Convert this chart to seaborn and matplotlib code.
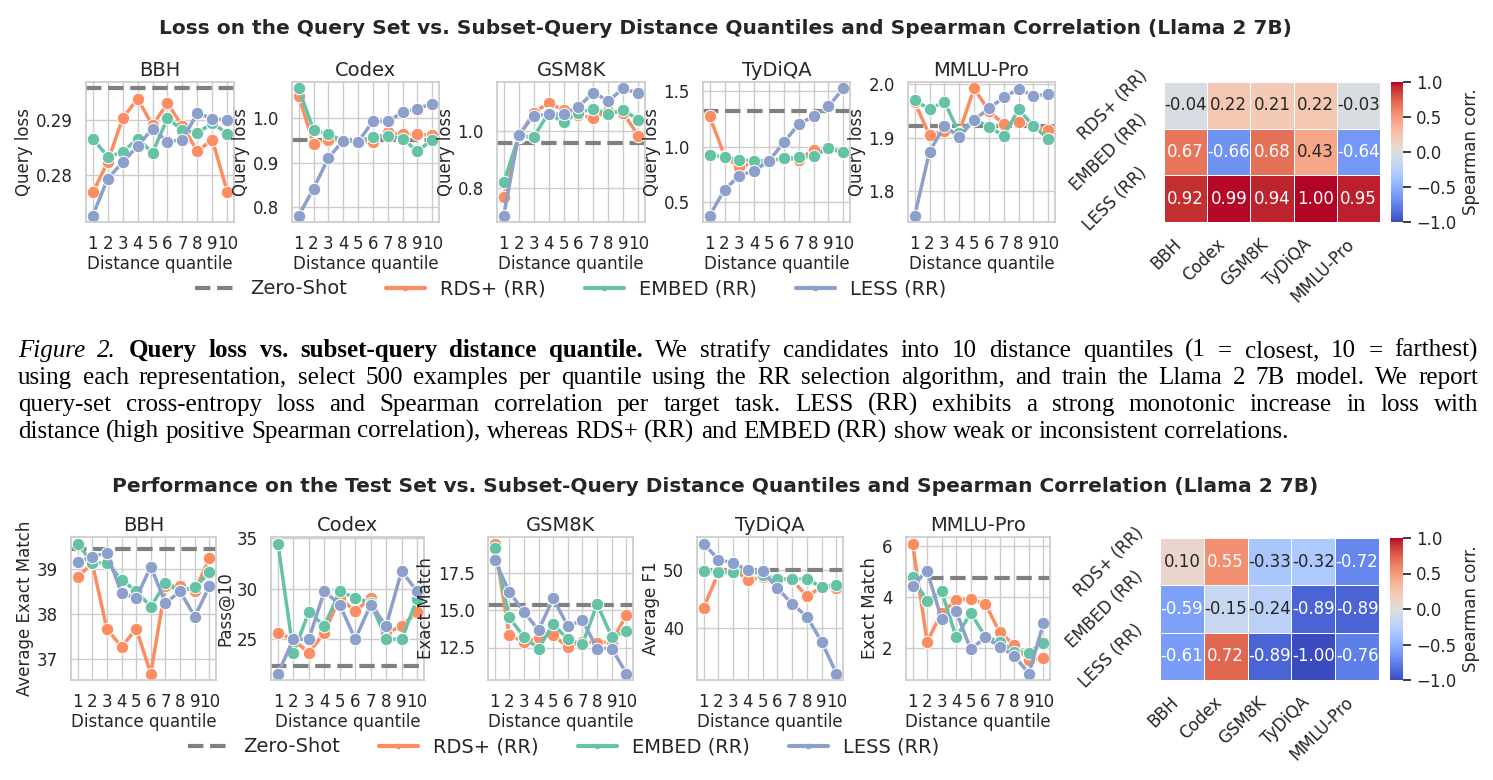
import numpy as np
import pandas as pd
import matplotlib
matplotlib.use("Agg")
import matplotlib.pyplot as plt
from matplotlib.lines import Line2D
import seaborn as sns

tasks = ["BBH", "Codex", "GSM8K", "TyDiQA", "MMLU-Pro"]
methods = ["RDS+ (RR)", "EMBED (RR)", "LESS (RR)"]
quantiles = list(range(1, 11))

# Query-set loss per distance quantile (rows: tasks)
loss_zero_shot = [0.2958, 0.952, 0.9588, 1.322, 1.921]
loss_rds = [
    [0.2769, 0.2824, 0.2904, 0.2939, 0.2891, 0.2931, 0.2889, 0.2844, 0.2865, 0.2770],
    [1.050, 0.943, 0.952, 0.950, 0.947, 0.947, 0.968, 0.964, 0.964, 0.962],
    [0.768, 0.979, 1.067, 1.100, 1.076, 1.059, 1.047, 1.074, 1.065, 0.985],
    [1.272, 0.919, 0.814, 0.859, 0.874, 0.889, 0.883, 0.973, 0.979, 0.949],
    [1.966, 1.905, 1.913, 1.910, 1.992, 1.950, 1.925, 1.929, 1.922, 1.914],
]
loss_embed = [
    [0.2867, 0.2834, 0.2842, 0.2867, 0.2841, 0.2904, 0.2882, 0.2877, 0.2895, 0.2876],
    [1.067, 0.974, 0.964, 0.950, 0.947, 0.959, 0.961, 0.954, 0.926, 0.952],
    [0.818, 0.982, 0.980, 1.065, 1.032, 1.067, 1.080, 1.061, 1.076, 1.041],
    [0.928, 0.904, 0.883, 0.870, 0.874, 0.895, 0.904, 0.913, 0.988, 0.949],
    [1.970, 1.953, 1.967, 1.909, 1.935, 1.920, 1.904, 1.953, 1.922, 1.898],
]
loss_less = [
    [0.2727, 0.2794, 0.2824, 0.2853, 0.2885, 0.2861, 0.2865, 0.2913, 0.2903, 0.2901],
    [0.7815, 0.842, 0.911, 0.950, 0.947, 0.993, 0.993, 1.013, 1.021, 1.033],
    [0.700, 0.988, 1.055, 1.061, 1.061, 1.088, 1.138, 1.108, 1.153, 1.135],
    [0.380, 0.614, 0.740, 0.784, 0.874, 1.039, 1.204, 1.272, 1.362, 1.524],
    [1.755, 1.874, 1.922, 1.902, 1.933, 1.955, 1.975, 1.991, 1.978, 1.981],
]
loss_ylabels = ["Query loss"] * 5
loss_corr = [
    [-0.04, 0.22, 0.21, 0.22, -0.03],
    [0.67, -0.66, 0.68, 0.43, -0.64],
    [0.92, 0.99, 0.94, 1.00, 0.95],
]

# Test-set performance per distance quantile
perf_zero_shot = [39.44, 22.34, 15.33, 49.89, 4.73]
perf_rds = [
    [38.81, 39.13, 37.67, 37.27, 37.67, 36.68, 38.62, 38.62, 38.50, 39.24],
    [25.66, 24.93, 23.67, 25.66, 29.09, 27.76, 29.09, 25.6, 26.33, 27.66],
    [19.46, 13.33, 12.88, 13.15, 13.33, 12.54, 12.88, 12.81, 12.88, 14.67],
    [43.54, 49.43, 50.3, 48.17, 48.74, 48.4, 48.29, 45.43, 47.03, 46.86],
    [6.09, 2.26, 3.38, 3.88, 3.93, 3.74, 2.62, 2.13, 1.54, 1.61],
]
perf_embed = [
    [39.56, 39.13, 39.13, 38.76, 38.50, 38.16, 38.68, 38.50, 38.59, 38.92],
    [34.47, 23.67, 27.69, 26.33, 29.75, 29.09, 28.6, 25.0, 25.0, 28.99],
    [19.17, 14.51, 13.21, 12.43, 14.06, 13.04, 12.72, 15.40, 13.21, 13.59],
    [49.83, 49.54, 49.54, 49.89, 49.14, 48.4, 48.4, 48.4, 47.03, 47.43],
    [4.78, 3.84, 4.23, 2.43, 3.38, 2.46, 2.26, 1.87, 1.83, 2.22],
]
perf_less = [
    [39.14, 39.27, 39.35, 38.46, 38.35, 39.05, 38.24, 38.50, 37.94, 38.61],
    [21.61, 25.0, 25.0, 29.75, 28.42, 25.0, 28.42, 26.33, 31.74, 29.75],
    [18.35, 16.23, 14.89, 13.66, 15.78, 13.93, 14.33, 12.43, 12.43, 10.76],
    [54.46, 51.71, 51.14, 49.89, 49.71, 46.86, 44.17, 42.0, 37.71, 32.29],
    [4.45, 5.02, 3.14, 3.44, 1.96, 2.43, 2.07, 1.70, 1.02, 2.98],
]
perf_ylabels = ["Average Exact Match", "Pass@10", "Exact Match", "Average F1", "Exact Match"]
perf_corr = [
    [0.10, 0.55, -0.33, -0.32, -0.72],
    [-0.59, -0.15, -0.24, -0.89, -0.89],
    [-0.61, 0.72, -0.89, -1.00, -0.76],
]

palette = {"RDS+ (RR)": "#fc8d62", "EMBED (RR)": "#66c2a5", "LESS (RR)": "#8da0cb"}

sns.set_theme(style="whitegrid", rc={
    "axes.titlesize": 14, "axes.labelsize": 12,
    "xtick.labelsize": 12, "ytick.labelsize": 12,
})
plt.rcParams["font.family"] = ["DejaVu Sans"]

W, H = 1493, 780
fig = plt.figure(figsize=(W / 100, H / 100), dpi=100)


def rect(x0, y0, x1, y1):
    return [x0 / W, 1 - y1 / H, (x1 - x0) / W, (y1 - y0) / H]


def draw_row(lefts, rights, top, bottom, hm_box, cb_box, zero, rds, embed, less, ylabels, corr,
             title, title_xy, legend_xy):
    for i in range(5):
        ax = fig.add_axes(rect(lefts[i], top, rights[i], bottom))
        df = pd.DataFrame({
            "quantile": quantiles * 3,
            "value": rds[i] + embed[i] + less[i],
            "method": np.repeat(methods, 10),
        })
        sns.lineplot(data=df, x="quantile", y="value", hue="method", palette=palette,
                     marker="o", markersize=9, linewidth=2.5, ax=ax, legend=False)
        ax.axhline(zero[i], color="gray", ls="--", lw=3, zorder=1)
        ax.set_xticks(quantiles)
        ax.set_title(tasks[i], pad=4)
        ax.set_xlabel("Distance quantile", labelpad=1)
        ax.set_ylabel(ylabels[i], labelpad=2)

    hax = fig.add_axes(rect(*hm_box))
    cax = fig.add_axes(rect(*cb_box))
    cdf = pd.DataFrame(corr, index=methods, columns=tasks)
    sns.heatmap(cdf, ax=hax, cbar_ax=cax, cmap="coolwarm", vmin=-1, vmax=1, center=0,
                annot=True, fmt=".2f", annot_kws={"size": 12}, linewidths=0.5, linecolor="white",
                cbar_kws={"label": "Spearman corr."})
    hax.set_xticklabels(tasks, rotation=45, ha="right")
    hax.set_yticklabels(methods, rotation=45)
    hax.set_xlabel("")
    hax.set_ylabel("")
    cax.tick_params(labelsize=12)
    cax.yaxis.label.set_size(12)

    fig.text(title_xy[0] / W, 1 - title_xy[1] / H, title, ha="center", va="center",
             fontsize=14.5, weight="bold", color=".15")

    handles = [Line2D([], [], color="gray", ls="--", lw=3)]
    for m in methods:
        handles.append(Line2D([], [], color=palette[m], lw=3, marker="o", markersize=3))
    fig.legend(handles, ["Zero-Shot"] + methods, loc="center", ncol=4, frameon=False,
               fontsize=14, bbox_to_anchor=(legend_xy[0] / W, 1 - legend_xy[1] / H))


draw_row([86, 292, 497, 703, 908], [234, 439, 645, 850, 1055], 82, 222,
         (1164, 82, 1380, 222), (1391, 82, 1403, 222),
         loss_zero_shot, loss_rds, loss_embed, loss_less, loss_ylabels, loss_corr,
         "Loss on the Query Set vs. Subset-Query Distance Quantiles and Spearman Correlation (Llama 2 7B)",
         (725, 28), (571, 289))

draw_row([71, 271, 488, 697, 906], [216, 424, 633, 843, 1050], 537, 680,
         (1160, 538, 1379, 680), (1390, 538, 1403, 680),
         perf_zero_shot, perf_rds, perf_embed, perf_less, perf_ylabels, perf_corr,
         "Performance on the Test Set vs. Subset-Query Distance Quantiles and Spearman Correlation (Llama 2 7B)",
         (715, 486), (564, 747))

# Caption between the two panels (justified lines)
caption = [
    ([("Figure 2.", "italic"), ("Query loss vs. subset-query distance quantile.", "bold"),
      ("We stratify candidates into 10 distance quantiles (1 = closest, 10 = farthest)", "normal")], True),
    ([("using each representation, select 500 examples per quantile using the RR selection "
       "algorithm, and train the Llama 2 7B model. We report", "normal")], True),
    ([("query-set cross-entropy loss and Spearman correlation per target task.  LESS (RR) exhibits "
       "a strong monotonic increase in loss with", "normal")], True),
    ([("distance (high positive Spearman correlation), whereas RDS+ (RR) and EMBED (RR) show weak "
       "or inconsistent correlations.", "normal")], False),
]
renderer = fig.canvas.get_renderer()
cap_fs = 18
x_left, x_right = 18, 1478
for k, (runs, just) in enumerate(caption):
    y = 1 - (357 + 27 * k) / H
    objs = []
    for txt, st in runs:
        for w in txt.split():
            t = fig.text(0, y, w, fontsize=cap_fs, family="Liberation Serif", color="black",
                         va="baseline", ha="left",
                         style="italic" if st == "italic" else "normal",
                         weight="bold" if st == "bold" else "normal")
            objs.append(t)
    widths = [t.get_window_extent(renderer).width for t in objs]
    if just:
        gap = (x_right - x_left - sum(widths)) / (len(objs) - 1)
    else:
        gap = 0.25 * cap_fs * 100 / 72
    x = x_left
    for t, w in zip(objs, widths):
        t.set_x(x / W)
        x += w + gap

fig.savefig("out.png", dpi=100)
